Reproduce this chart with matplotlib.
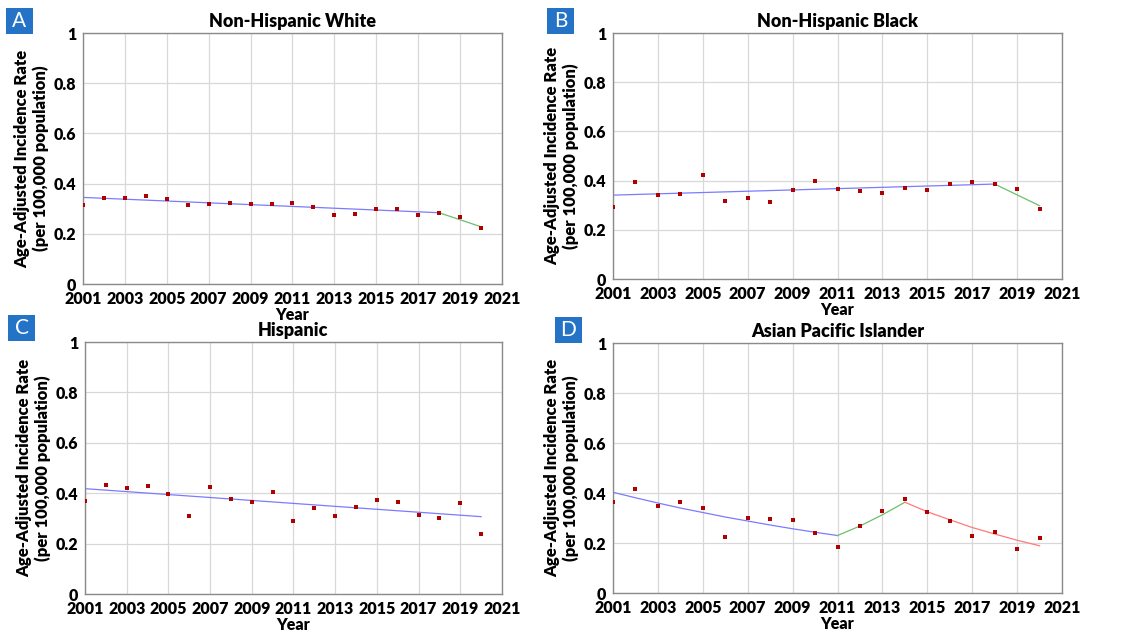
import matplotlib
matplotlib.use("Agg")
import matplotlib.pyplot as plt
from matplotlib.patches import Rectangle
import numpy as np

plt.rcParams['font.family'] = ['Lato', 'DejaVu Sans']

years = list(range(2001, 2021))

# observed age-adjusted rates
white = [0.314, 0.342, 0.344, 0.351, 0.340, 0.314, 0.317, 0.321, 0.318, 0.320,
         0.321, 0.308, 0.275, 0.277, 0.297, 0.300, 0.273, 0.281, 0.268, 0.224]
black = [0.294, 0.396, 0.341, 0.347, 0.423, 0.316, 0.331, 0.313, 0.360, 0.398,
         0.366, 0.358, 0.348, 0.371, 0.360, 0.388, 0.393, 0.385, 0.366, 0.285]
hispanic = [0.368, 0.433, 0.421, 0.427, 0.398, 0.309, 0.423, 0.379, 0.365, 0.404,
            0.289, 0.340, 0.311, 0.347, 0.373, 0.365, 0.315, 0.302, 0.361, 0.240]
asian = [0.364, 0.418, 0.347, 0.363, 0.340, 0.225, 0.302, 0.297, 0.294, 0.241,
         0.184, 0.269, 0.330, 0.375, 0.324, 0.290, 0.227, 0.245, 0.176, 0.222]

# joinpoint fitted segments: (years, fitted values, colour)
white_fit = [([2001, 2018], [0.345, 0.284], 'blue'),
             ([2018, 2020], [0.284, 0.228], 'green')]
black_fit = [([2001, 2018], [0.341, 0.386], 'blue'),
             ([2018, 2020], [0.386, 0.298], 'green')]
hispanic_fit = [([2001, 2020], [0.418, 0.307], 'blue')]
asian_fit = [(list(range(2001, 2012)),
              [0.403, 0.381, 0.360, 0.340, 0.322, 0.304, 0.288, 0.272, 0.257, 0.243, 0.230], 'blue'),
             ([2011, 2012, 2013, 2014], [0.230, 0.268, 0.313, 0.363], 'green'),
             (list(range(2014, 2021)), [0.363, 0.325, 0.293, 0.262, 0.236, 0.211, 0.189], 'red')]

titles = ['Non-Hispanic White', 'Non-Hispanic Black', 'Hispanic', 'Asian Pacific Islander']
letters = ['A', 'B', 'C', 'D']
line_colors = {'blue': '#7b7bff', 'green': '#6cbf6c', 'red': '#ff7a7a'}

# [left, bottom, width, height] in figure fractions
positions = [[0.0737, 0.5499, 0.3721, 0.3978],
             [0.5444, 0.5578, 0.3988, 0.3899],
             [0.0755, 0.0586, 0.3703, 0.3994],
             [0.5444, 0.0602, 0.3988, 0.3962]]
# letter box lower-left corners, figure fractions
letter_boxes = [(6 / 1126, 1 - 34 / 631), (547 / 1126, 1 - 34 / 631),
                (8 / 1126, 1 - 341 / 631), (555 / 1126, 1 - 343 / 631)]
box_w, box_h = 27 / 1126, 26 / 631

fig = plt.figure(figsize=(11.26, 6.31), dpi=100)

panels = [(white, white_fit), (black, black_fit), (hispanic, hispanic_fit), (asian, asian_fit)]
for i, (obs, fits) in enumerate(panels):
    ax = fig.add_axes(positions[i])
    for xs, ys, c in fits:
        ax.plot(xs, ys, color=line_colors[c], lw=0.9, zorder=2)
    ax.plot(years, obs, ls='none', marker='s', ms=3.2, color='#b00000',
            markeredgewidth=0, zorder=3)
    ax.set_xlim(2001, 2021)
    ax.set_ylim(0, 1)
    ax.set_xticks(range(2001, 2022, 2))
    ax.set_yticks([0, 0.2, 0.4, 0.6, 0.8, 1])
    ax.set_yticklabels(['0', '0.2', '0.4', '0.6', '0.8', '1'])
    ax.tick_params(length=0, labelsize=11.5, pad=5)
    for lab in ax.get_xticklabels() + ax.get_yticklabels():
        lab.set_fontweight('heavy')
    ax.grid(True, color='#d8d8d8', lw=0.9)
    ax.set_axisbelow(True)
    for sp in ax.spines.values():
        sp.set_color('#8a8a8a')
        sp.set_linewidth(1.0)
    ax.set_title(titles[i], fontsize=13, fontweight='heavy', pad=4)
    ax.set_xlabel('Year', fontsize=11.5, fontweight='heavy', labelpad=0)
    ax.set_ylabel('Age-Adjusted Incidence Rate\n(per 100,000 population)',
                  fontsize=12, fontweight='heavy', labelpad=3, linespacing=1.15)

    bx, by = letter_boxes[i]
    fig.patches.append(Rectangle((bx, by), box_w, box_h, transform=fig.transFigure,
                                 facecolor='#2473c6', edgecolor='none'))
    fig.text(bx + box_w / 2, by + box_h / 2, letters[i], fontsize=15,
             color='white', ha='center', va='center')

fig.savefig('out.png', dpi=100)
